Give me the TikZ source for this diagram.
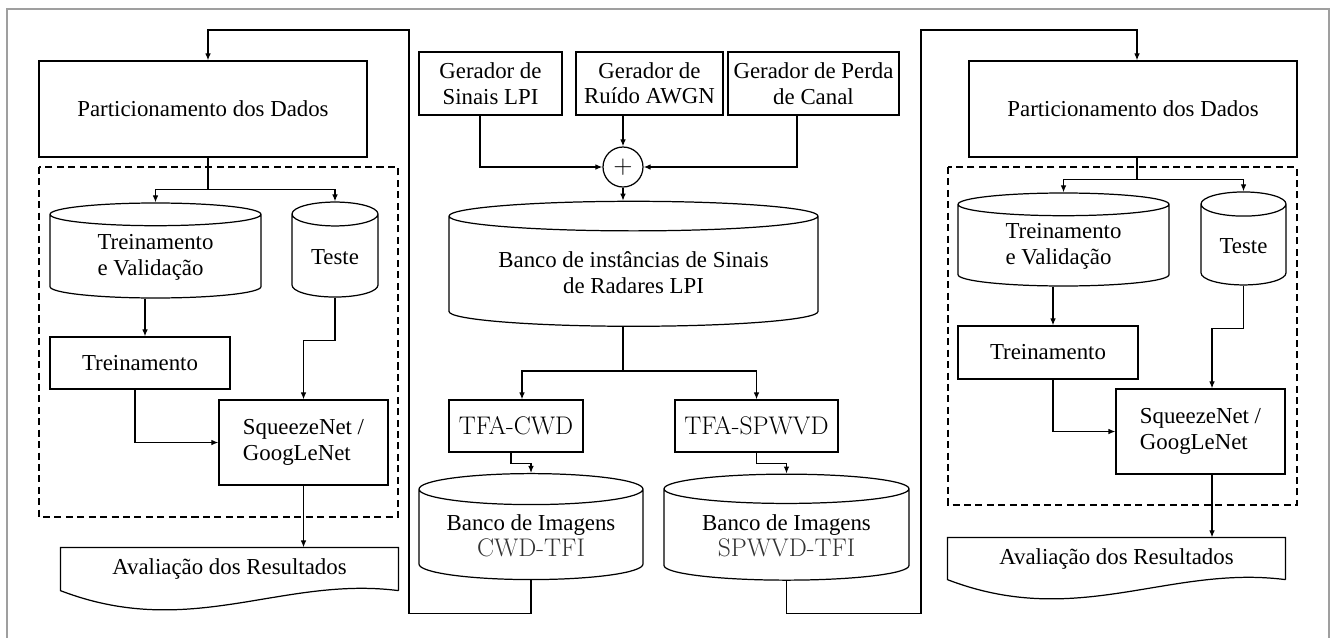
\documentclass[tikz,border=0pt]{standalone}
\usepackage{fontspec}
\setmainfont{Liberation Serif}
\newfontfamily\cmfont{Latin Modern Roman}
\usetikzlibrary{positioning,arrows.meta,shapes.geometric}
\tikzset{
  box/.style  = {rectangle, draw, align=center, inner sep=1pt,
                 font=\fontsize{13}{14.5}\selectfont},
  db/.style   = {cylinder, shape border rotate=90, draw, aspect=#1,
                 align=center, inner sep=1pt,
                 font=\fontsize{13}{14.5}\selectfont},
  db/.default = 0.19,
  doc/.style  = {rectangle, align=center, inner sep=1pt,
                 font=\fontsize{13}{14.5}\selectfont},
  sum/.style  = {circle, draw, minimum size=0.8cm, inner sep=0pt},
  arr/.style  = {-{Latex[length=4pt,width=3.2pt]}},
  grp/.style  = {dash pattern=on 4pt off 2.5pt},
  frm/.style  = {draw=gray!75, line width=0.6pt},
  cmtext/.style = {font=\cmfont\fontsize{14.5}{16}\selectfont}
}
\begin{document}
\begin{tikzpicture}[x=0.02cm, y=-0.02cm, line width=0.7pt]
  \useasboundingbox (0,0) rectangle (1338,637);
  \draw[frm] (7,640) -- (7,9) -- (1329,9) -- (1329,640);

  % middle: generators and signal bank
  \node[box,minimum width=2.86cm,minimum height=1.26cm] (gen1) at (490.5,83.5) {Gerador de\\Sinais LPI};
  \node[box,minimum width=2.94cm,minimum height=1.26cm] (gen2) at (649.5,83.5) {Gerador de\\Ruído AWGN};
  \node[box,minimum width=3.42cm,minimum height=1.26cm] (gen3) at (813.5,83.5) {Gerador de Perda\\de Canal};
  \node[sum] (sum) at (623,167) {\Large$+$};
  \node[db=0.108,minimum width=7.38cm,minimum height=2.5cm] (bd) at (633.5,272.5)
       {Banco de instâncias de Sinais\\de Radares LPI};
  \node[box,cmtext,minimum width=2.68cm,minimum height=1.04cm] (cwdT) at (516,426) {TFA-CWD};
  \node[box,cmtext,minimum width=3.26cm,minimum height=1.04cm] (spT) at (756.5,426) {TFA-SPWVD};
  \node[db=0.18,minimum width=4.48cm,minimum height=2.12cm] (cwd) at (531,536)
       {Banco de Imagens\\{\cmfont\fontsize{14.5}{16}\selectfont\color{black!80}CWD-TFI}};
  \node[db=0.17,minimum width=4.9cm,minimum height=2.12cm] (sp) at (786.5,536)
       {Banco de Imagens\\{\cmfont\fontsize{14.5}{16}\selectfont\color{black!80}SPWVD-TFI}};

  \draw[arr] (gen1.south -| 480,0) |- (sum.west);
  \draw[arr] (gen2.south -| sum) -- (sum.north);
  \draw[arr] (gen3.south -| 797,0) |- (sum.east);
  \draw[arr] (sum.south) -- (sum.south |- bd.north);
  \draw[arr] (bd.south -| sum) -- ++(0,44) coordinate (brM) -| (cwdT.north -| 522,0);
  \draw[arr] (brM) -| (spT.north);
  \draw[arr] (cwdT.south -| 511,0) -- ++(0,11) -| (cwd.north);
  \draw[arr] (spT.south) -- ++(0,11) -| (sp.north);

  % left: partitioning and training
  \node[box,minimum width=6.56cm,minimum height=1.92cm] (partL) at (203,109) {Particionamento dos Dados};
  \node[db=0.19,align=left,minimum width=4.22cm,minimum height=1.9cm] (tvL) at (155.5,257.5) {Treinamento\\e Validação};
  \node[db=0.465,minimum width=1.72cm,minimum height=1.9cm] (teL) at (335,257.5) {Teste};
  \node[box,minimum width=3.6cm,minimum height=1.04cm] (trL) at (140,363) {Treinamento};
  \node[box,align=left,minimum width=3.38cm,minimum height=1.7cm] (sqL) at (303.5,442.5) {SqueezeNet /\\GoogLeNet};
  \node[doc,minimum width=6.74cm,minimum height=0.84cm] (avL) at (229.5,569) {Avaliação dos Resultados};
  \draw (avL.south east) -- (avL.north east) -- (avL.north west) -- (avL.south west)
        .. controls +(130,50) and +(-117,-15) .. (avL.south east);
  \draw[grp] (39,167) rectangle (398,517);

  \draw[arr] (partL.south -| 208,0) -- ++(0,32) coordinate (brL) -| (tvL.north);
  \draw[arr] (brL) -| (teL.north);
  \draw[arr] (tvL.south -| 145,0) -- (trL.north -| 145,0);
  \draw[arr] (teL.south) -- ++(0,43) -| (sqL.north);
  \draw[arr] (trL.south -| 135,0) |- (sqL.west);
  \draw[arr] (sqL.south) -- (sqL.south |- avL.north);

  % right: partitioning and training
  \node[box,minimum width=6.56cm,minimum height=1.92cm] (partR) at (1133,109) {Particionamento dos Dados};
  \node[db=0.19,align=left,minimum width=4.22cm,minimum height=1.86cm] (tvR) at (1063.5,246.5) {Treinamento\\e Validação};
  \node[db=0.47,minimum width=1.7cm,minimum height=1.86cm] (teR) at (1243.5,246.5) {Teste};
  \node[box,minimum width=3.6cm,minimum height=1.06cm] (trR) at (1048,352.5) {Treinamento};
  \node[box,align=left,minimum width=3.38cm,minimum height=1.7cm] (sqR) at (1200.5,431.5) {SqueezeNet /\\GoogLeNet};
  \node[doc,minimum width=6.74cm,minimum height=0.82cm] (avR) at (1116.5,558.5) {Avaliação dos Resultados};
  \draw (avR.south east) -- (avR.north east) -- (avR.north west) -- (avR.south west)
        .. controls +(130,50) and +(-117,-15) .. (avR.south east);
  \draw[grp] (948,167) rectangle (1297,505);

  \draw[arr] (partR.south -| 1137,0) -- ++(0,22) coordinate (brR) -| (tvR.north);
  \draw[arr] (brR) -| (teR.north);
  \draw[arr] (tvR.south -| 1053,0) -- (trR.north -| 1053,0);
  \draw[arr] (teR.south) -- ++(0,43) -| (sqR.north -| 1212,0);
  \draw[arr] (trR.south -| 1053,0) |- (sqR.west);
  \draw[arr] (sqR.south -| 1212,0) -- (avR.north -| 1212,0);

  % feedback from the image banks
  \coordinate (fbL) at (409,30);
  \coordinate (fbR) at (921,30);
  \draw[arr] (cwd.south) -- ++(0,33) -| (fbL) -| (partL.north -| 208,0);
  \draw[arr] (sp.south) -- ++(0,33) -| (fbR) -| (partR.north -| 1137,0);
\end{tikzpicture}
\end{document}
